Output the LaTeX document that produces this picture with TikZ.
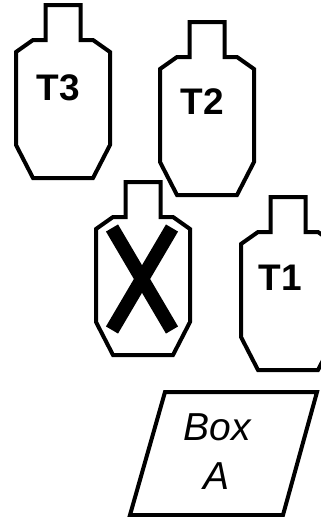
\documentclass[tikz,border=0pt]{standalone}
\usepackage{fontspec}
\setmainfont{Liberation Sans}
\usepackage{tikz}

\tikzset{
  silhouette/.pic={
    \draw[outline] (-17.5,0) -- (17.5,0) -- (17.5,35) -- (30,35) -- (47,47)
      -- (47,140) -- (30,173) -- (-30,173) -- (-47,140) -- (-47,47)
      -- (-30,35) -- (-17.5,35) -- cycle;
  }
}

\begin{document}
\begin{tikzpicture}[x=1pt,y=-1pt]
  \tikzstyle{outline}=[line width=4pt, black]
  \tikzstyle{tag}=[font=\fontsize{37}{44}\selectfont\bfseries, inner sep=0pt]
  \tikzstyle{boxtext}=[font=\fontsize{39}{49}\selectfont\itshape, align=center, inner sep=0pt]
  \useasboundingbox (0,0) rectangle (321,517);
  \clip (0,0) rectangle (321,517);

  % the four targets
  \pic at (63,5)    {silhouette};
  \pic at (207,22)  {silhouette};
  \pic at (143,182) {silhouette};
  \pic at (288,197) {silhouette};

  \node[tag] (T_3) at (58,88)  {T3};
  \node[tag] (T_2) at (202,102) {T2};
  \node[tag] (T_1) at (280,278) {T1};

  % crossed out target
  \draw[line width=14pt] (112,228) -- (172,330);
  \draw[line width=14pt] (172,228) -- (112,330);

  % the box
  \draw[outline] (165,392) -- (317,392) -- (283,515) -- (130,515) -- cycle;
  \node[boxtext] (box_A) at (217,452) {Box\\A};
\end{tikzpicture}
\end{document}
